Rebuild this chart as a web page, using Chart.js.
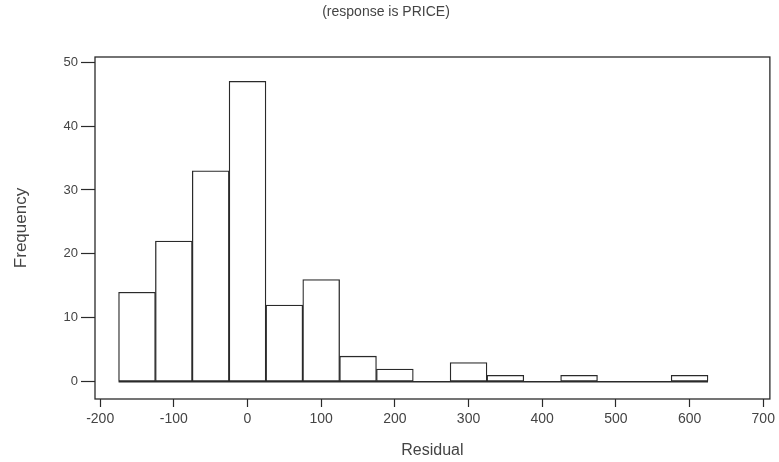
<!DOCTYPE html>
<html>
<head>
<meta charset="utf-8">
<title>Histogram of the Residuals</title>
<script src="https://cdn.jsdelivr.net/npm/chart.js@4.4.0/dist/chart.umd.min.js"></script>
<style>
  html, body { margin: 0; padding: 0; background: #fff; }
  #wrap { width: 779px; height: 462px; }
</style>
</head>
<body>
<div id="wrap"><canvas id="histChart"></canvas></div>
<script>
// residual histogram, bins 50 wide
const binCenters = [-150, -100, -50, 0, 50, 100, 150, 200, 250, 300, 350, 400, 450, 500, 550, 600];
const frequencies = [14, 22, 33, 47, 12, 16, 4, 2, 0, 3, 1, 0, 1, 0, 0, 1];
const binWidth = 50;
const xTicks = [-200, -100, 0, 100, 200, 300, 400, 500, 600, 700];
const yTicks = [0, 10, 20, 30, 40, 50];

const ink = '#2a2a2a';
const textColor = '#444';
Chart.defaults.font.family = '"Liberation Sans", Arial, Helvetica, sans-serif';
Chart.defaults.color = textColor;

// box around the plotting area
const frame = {
    id: 'frame',
    afterDatasetsDraw(chart) {
        const { ctx, chartArea: a } = chart;
        ctx.save();
        ctx.strokeStyle = ink;
        ctx.lineWidth = 1.3;
        ctx.strokeRect(a.left, a.top, a.right - a.left, a.bottom - a.top);
        ctx.restore();
    }
};

const firstEdge = binCenters[0] - binWidth / 2;
const lastEdge = binCenters[binCenters.length - 1] + binWidth / 2;

new Chart(document.getElementById('histChart'), {
    type: 'bar',
    data: {
        datasets: [{
            label: 'Frequency',
            data: binCenters.map((x, i) => ({ x: x, y: frequencies[i] })),
            backgroundColor: '#fff',
            borderColor: ink,
            borderWidth: 1.3,
            borderSkipped: false,
            barPercentage: 1,
            categoryPercentage: 1,
            order: 2
        }, {
            // zero line under the bins
            type: 'line',
            label: 'base',
            data: [{ x: firstEdge, y: 0 }, { x: lastEdge, y: 0 }],
            borderColor: ink,
            borderWidth: 1.3,
            pointRadius: 0,
            order: 1
        }]
    },
    options: {
        responsive: true,
        maintainAspectRatio: false,
        animation: false,
        layout: { padding: { left: 0, right: 7, top: 0, bottom: 0 } },
        plugins: {
            legend: { display: false },
            tooltip: { enabled: false },
            title: {
                display: true,
                text: '(response is PRICE)',
                color: textColor,
                font: { size: 14, weight: 'normal' },
                padding: { top: 4, bottom: 36.2 }
            }
        },
        scales: {
            x: {
                type: 'linear',
                offset: false,
                min: -207,
                max: 709,
                afterBuildTicks: axis => { axis.ticks = xTicks.map(v => ({ value: v })); },
                afterFit: axis => { axis.height = 63; },
                border: { display: false },
                grid: { offset: false, drawOnChartArea: false, tickLength: 8, tickColor: ink, tickWidth: 1.2 },
                ticks: { padding: 4, maxRotation: 0, font: { size: 14 }, color: textColor },
                title: {
                    display: true,
                    text: 'Residual',
                    color: textColor,
                    font: { size: 16 },
                    padding: { top: 4, bottom: 1.5 }
                }
            },
            y: {
                min: -2.7,
                max: 50.8,
                afterBuildTicks: axis => { axis.ticks = yTicks.map(v => ({ value: v })); },
                afterFit: axis => { axis.width = 95; },
                border: { display: false },
                grid: { drawOnChartArea: false, tickLength: 14, tickColor: ink, tickWidth: 1.2 },
                ticks: { padding: 3, font: { size: 13 }, color: textColor },
                title: {
                    display: true,
                    text: 'Frequency',
                    color: textColor,
                    font: { size: 17 },
                    padding: { top: 11, bottom: 0 }
                }
            }
        }
    },
    plugins: [frame]
});
</script>
</body>
</html>
